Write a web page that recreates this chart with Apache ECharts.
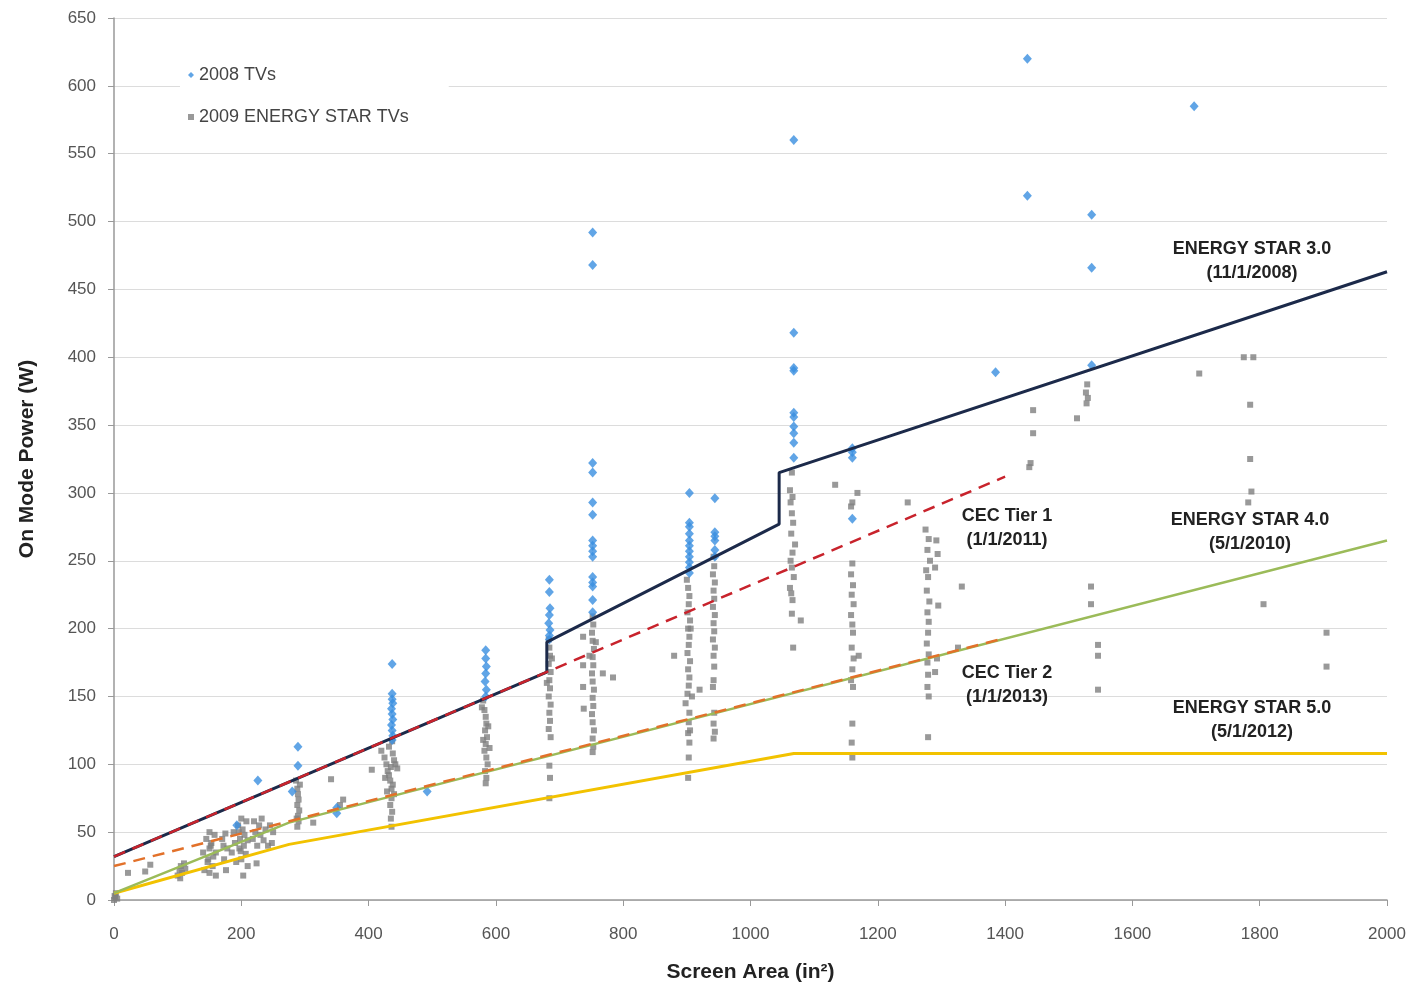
<!DOCTYPE html>
<html><head><meta charset="utf-8">
<script src="https://cdn.jsdelivr.net/npm/echarts@6/dist/echarts.min.js"></script>
<style>html,body{margin:0;padding:0;background:#fff}#c{width:1410px;height:986px}</style>
</head><body><div id="c"></div>
<script>
// ---- data ----
const xTicks = [0,200,400,600,800,1000,1200,1400,1600,1800,2000];
const yTicks = [0,50,100,150,200,250,300,350,400,450,500,550,600,650];

const tv2008 = [
 [193,55],[226,88],[280,80],[289,113],[289,99],[350,68],[350,64],[492,80],
 [437,174],[437,152],[437,148],[438,145],[436,141],[437,137],[438,133],[436,129],[437,125],[438,121],[437,118],
 [584,184],[584,178],[585,172],[584,167],[583,161],[585,155],[584,150],
 [684,236],[684,227],[685,215],[684,210],[683,204],[685,199],[684,195],[684,192],
 [752,492],[752,468],[752,322],[752,315],[752,293],[752,284],[752,265],[752,261],[752,257],[752,253],[752,238],[752,234],[752,231],[752,221],[752,212],
 [904,300],[904,278],[904,275],[904,270],[904,265],[904,261],[904,257],[904,253],[904,249],[904,245],[904,241],
 [944,296],[944,271],[944,268],[944,265],[944,258],[944,253],
 [1068,560],[1068,418],[1068,392],[1068,390],[1068,359],[1068,356],[1068,349],[1068,344],[1068,337],[1068,326],
 [1160,333],[1160,330],[1160,326],[1160,281],
 [1385,389],[1435,620],[1435,519],[1536,505],[1536,466],[1536,394],[1697,585]
];

const star2009 = [
 [0,0],[2,2],[3,5],[5,1],[1,3],
 [22,20],[49,21],[57,26],
 [100,18],[103,22],[105,25],[107,20],[110,27],[104,16],[112,23],
 [140,35],[145,45],[148,30],[150,50],[152,40],[155,25],[150,20],[158,48],[160,35],[147,28],[153,42],[156,32],[142,22],[160,18],[150,38],
 [170,45],[173,30],[175,49],[178,38],[176,22],[172,40],
 [185,35],[188,50],[190,42],[192,28],[195,55],[197,38],[198,45],[200,60],[200,30],[202,52],[204,40],[205,48],[207,34],[208,58],[210,44],[210,25],[203,18],[196,50],[199,36],
 [218,45],[220,58],[222,50],[225,40],[228,55],[224,27],[230,48],[232,60],[235,44],[238,52],[242,40],[245,55],[248,42],[250,50],
 [286,88],[288,82],[289,78],[290,74],[288,70],[291,66],[289,62],[290,58],[288,54],[292,85],[287,60],
 [313,57],[341,89],[360,74],[355,70],
 [405,96],[420,110],[425,105],[428,100],[430,95],[432,113],[434,88],[436,82],[437,117],[438,108],[440,103],[435,98],[432,92],[438,85],[440,78],[436,75],[434,70],[437,65],[435,60],[436,54],[429,80],[442,100],[445,97],[426,90],
 [580,147],[582,140],[584,135],[585,130],[583,125],[586,120],[584,115],[582,110],[585,105],[587,100],[583,95],[585,90],[584,86],[578,142],[588,128],[590,112],[580,118],
 [683,192],[684,186],[685,180],[683,174],[686,168],[684,162],[685,156],[683,150],[686,144],[684,138],[685,132],[683,126],[686,120],[684,99],[685,90],[684,75],[680,160],[688,178],
 [752,209],[753,203],[751,197],[752,191],[754,185],[752,179],[753,173],[751,167],[752,161],[754,155],[752,149],[753,143],[751,137],[752,131],[754,125],[752,119],[753,113],[752,109],[737,194],[737,173],[737,157],[738,141],[768,167],[784,164],[757,190],[747,180],
 [900,236],[902,230],[904,224],[903,218],[901,212],[905,206],[902,200],[904,194],[903,188],[901,182],[905,176],[902,170],[904,164],[903,158],[901,152],[904,138],[903,131],[905,125],[902,123],[904,116],[903,105],[902,90],[880,180],[908,150],[898,145],[906,200],
 [942,253],[943,246],[941,240],[944,234],[942,228],[943,222],[941,216],[944,210],[942,204],[943,198],[941,192],[944,186],[942,180],[943,172],[942,162],[941,157],[943,138],[942,130],[944,124],[942,119],[920,155],
 [1065,315],[1062,302],[1066,297],[1063,293],[1065,285],[1067,278],[1064,270],[1066,256],[1063,250],[1065,245],[1068,238],[1064,226],[1066,221],[1065,211],[1079,206],[1067,186],[1070,262],[1062,230],
 [1133,306],
 [1168,300],[1160,293],[1158,290],[1160,248],[1158,240],[1161,232],[1159,225],[1162,218],[1158,210],[1160,203],[1161,197],[1159,186],[1162,178],[1160,170],[1158,162],[1161,157],[1160,130],[1159,116],[1160,105],[1170,180],
 [1247,293],
 [1275,273],[1280,266],[1278,258],[1282,250],[1276,243],[1279,238],[1292,265],[1294,255],[1290,245],[1277,228],[1281,220],[1278,212],[1295,217],[1280,205],[1279,197],[1277,189],[1280,181],[1278,175],[1293,178],[1279,166],[1278,157],[1280,150],[1290,168],[1279,120],
 [1332,231],[1326,186],
 [1444,361],[1444,344],[1440,322],[1438,319],
 [1513,355],[1529,380],[1527,374],[1530,370],[1528,366],
 [1535,231],[1535,218],[1546,188],[1546,180],[1546,155],
 [1705,388],[1775,400],[1790,400],[1785,365],[1785,325],[1787,301],[1782,293],[1806,218],[1905,197],[1905,172]
];

const es30 = [[0,32],[680,168],[680,190],[1045,277],[1045,315],[2000,463]];
const cecTier1 = [[0,32],[1400,312]];
const cecTier2 = [[0,25],[1400,193]];
const es40 = [[0,5],[275,57],[2000,265]];
const es50 = [[0,5],[275,41],[1068,108],[2000,108]];

const seriesNames = ['2008 TVs','2009 ENERGY STAR TVs'];
const lineLabels = [
 ['ENERGY STAR 3.0','(11/1/2008)'],
 ['CEC Tier 1','(1/1/2011)'],
 ['ENERGY STAR 4.0','(5/1/2010)'],
 ['CEC Tier 2','(1/1/2013)'],
 ['ENERGY STAR 5.0','(5/1/2012)']
];
// ---- chart ----
const chart = echarts.init(document.getElementById('c'));
const F = '"Liberation Sans",Arial,sans-serif';
function lineSeries(name, data, color, type, width, z){
  return {name, type:'line', data, symbol:'none', silent:true, z,
    lineStyle:{color, width, type}, animation:false};
}
const labelPos = [[1252,261],[1007,528],[1250,532],[1007,685],[1252,720]];
const graphics = [];
lineLabels.forEach((l,i)=>{
  graphics.push({type:'text', x:labelPos[i][0], y:labelPos[i][1], z:100,
    style:{text:l[0]+'\n'+l[1], fill:'#222', font:'bold 18px '+F, textAlign:'center', textVerticalAlign:'middle', lineHeight:24}});
});
chart.setOption({
  animation:false,
  backgroundColor:'#fff',
  grid:{left:114, right:23, top:18, bottom:86, outerBoundsMode:'none', containLabel:false},
  legend:{data:[{name:seriesNames[0], icon:'diamond'},{name:seriesNames[1], icon:'rect'}],
    orient:'vertical', left:180, top:62, itemWidth:6, itemHeight:6, itemGap:24,
    backgroundColor:'#fff', padding:[4,40,6,8],
    textStyle:{fontSize:18, color:'#444', fontFamily:F}},
  xAxis:{type:'value', min:0, max:2000, interval:200,
    name:'Screen Area (in²)', nameLocation:'middle', nameGap:62,
    nameTextStyle:{fontSize:21, fontWeight:'bold', color:'#222', fontFamily:F},
    axisLine:{show:true, lineStyle:{color:'#999', width:1.5}},
    axisTick:{show:true, length:6, lineStyle:{color:'#999'}},
    axisLabel:{fontSize:17, color:'#555', fontFamily:F, margin:26, formatter:v=>String(v)},
    splitLine:{show:false}},
  yAxis:{type:'value', min:0, max:650, interval:50,
    name:'On Mode Power (W)', nameLocation:'middle', nameGap:76, nameRotate:90,
    nameTextStyle:{fontSize:21, fontWeight:'bold', color:'#222', fontFamily:F},
    axisLine:{show:true, lineStyle:{color:'#999', width:1.5}},
    axisTick:{show:true, length:6, lineStyle:{color:'#999'}},
    axisLabel:{fontSize:17, color:'#555', fontFamily:F, margin:18, formatter:v=>String(v)},
    splitLine:{show:true, lineStyle:{color:'#dcdcdc', width:1.2}}},
  graphic:graphics,
  series:[
    {name:seriesNames[1], type:'scatter', data:star2009, symbol:'rect', symbolSize:6,
      itemStyle:{color:'#7f7f7f'}, z:3},
    {name:seriesNames[0], type:'scatter', data:tv2008, symbol:'diamond', symbolSize:[9,10],
      itemStyle:{color:'#3a8ee0'}, z:4},
    lineSeries('ES5', es50, '#f2c200', 'solid', 3, 5),
    lineSeries('ES4', es40, '#9bbb59', 'solid', 2.5, 6),
    lineSeries('CEC2', cecTier2, '#e2712a', [12,8], 2.5, 7),
    lineSeries('ES3', es30, '#1c2a4a', 'solid', 3, 8),
    lineSeries('CEC1', cecTier1, '#c8232c', [12,8], 2.5, 9)
  ]
});
</script></body></html>
